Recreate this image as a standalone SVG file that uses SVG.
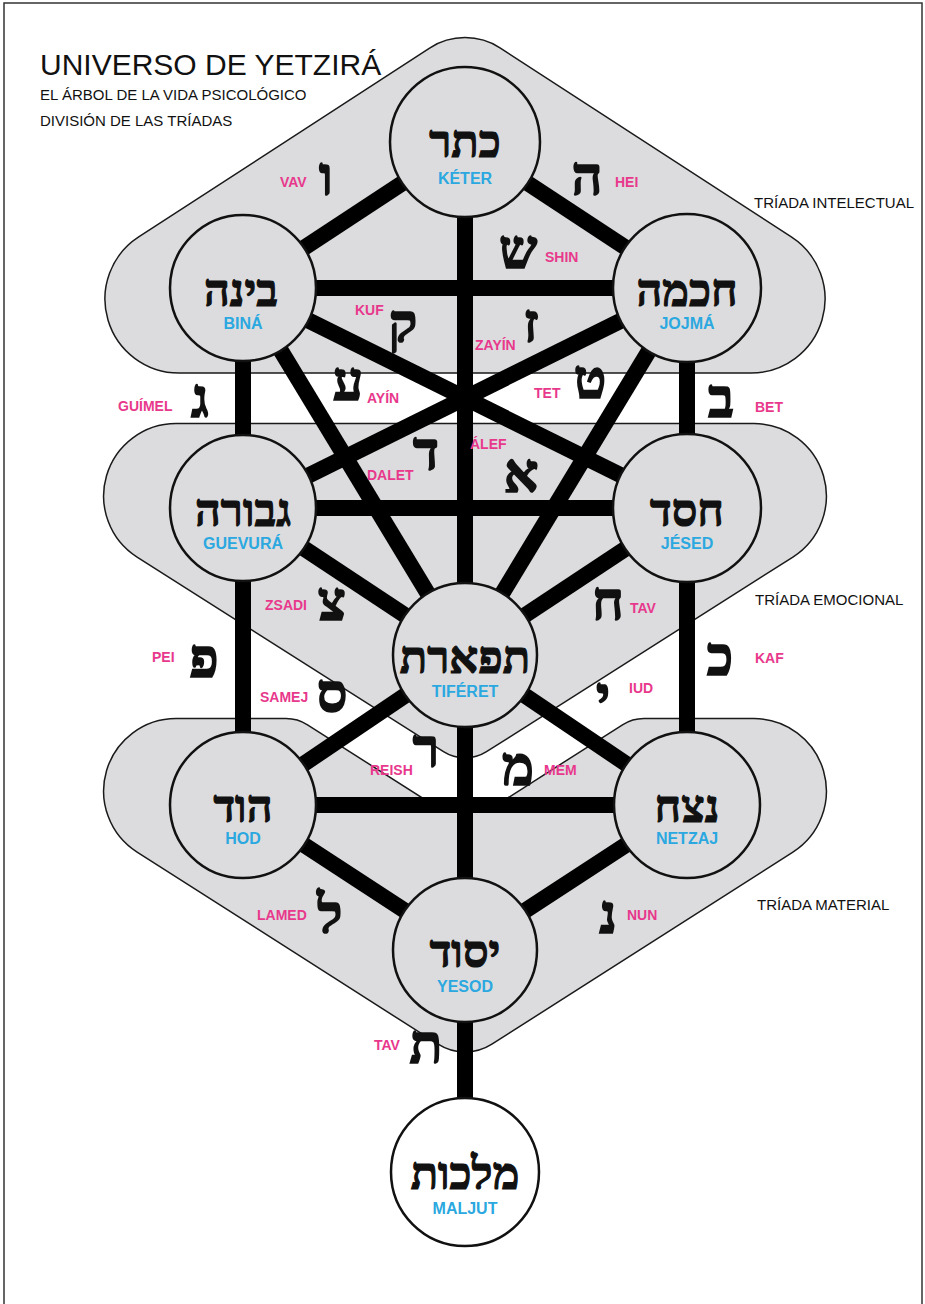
<svg xmlns="http://www.w3.org/2000/svg" width="925" height="1304" viewBox="0 0 925 1304">
<style>
.triad{fill:#dcdcde;stroke:#1a1a1a;stroke-width:1.5}
.conn line{stroke:#000;stroke-width:16;stroke-linecap:butt}
.node circle{fill:#dcdcde;stroke:#111;stroke-width:2.5}
.heb{font-family:"Liberation Serif","DejaVu Sans",serif;font-weight:bold;fill:#111;stroke:#111;text-anchor:middle}
.hn{font-size:45px;stroke-width:1.2}
.hp{font-size:54px;stroke-width:1.6}
.blue{font-family:"Liberation Sans",Arial,sans-serif;font-weight:bold;font-size:16px;fill:#2ba8e0;text-anchor:middle}
.pink{font-family:"Liberation Sans",Arial,sans-serif;font-weight:bold;font-size:14px;fill:#e8388c}
.tri{font-family:"Liberation Sans",Arial,sans-serif;font-size:15px;fill:#111}
.sub{font-family:"Liberation Sans",Arial,sans-serif;font-size:15px;fill:#111}
</style>
<rect x="0" y="0" width="925" height="1304" fill="#fff"/>
<rect x="4" y="3" width="918" height="1320" fill="none" stroke="#333" stroke-width="1.5"/>

<g id="triads">
<path id="triada-intelectual" class="triad" d="M429.6 48.1 A65 65 0 0 1 500.4 48.1 L791.3 236.9 A74 74 0 0 1 751 373 L179 373 A74 74 0 0 1 138.7 236.9 Z"/>
<path id="triada-emocional" class="triad" d="M176 423.5 L754 423.5 A72.5 72.5 0 0 1 792.9 557.1 L486.5 751.7 A40 40 0 0 1 443.5 751.7 L137.1 557.1 A72.5 72.5 0 0 1 176 423.5 Z"/>
<path id="triada-material" class="triad" d="M176 718.5 L286 718.5 A40 40 0 0 1 307.5 724.8 L430.2 803 L499.8 803 L622.5 724.8 A40 40 0 0 1 644 718.5 L754 718.5 A72.5 72.5 0 0 1 792.9 852.1 L491.9 1044.2 A50 50 0 0 1 438.1 1044.2 L137.1 852.1 A72.5 72.5 0 0 1 176 718.5 Z"/>
</g>

<g id="connectors" class="conn">
<line x1="465" y1="142" x2="243" y2="288"/>
<line x1="465" y1="142" x2="687" y2="288"/>
<line x1="465" y1="142" x2="465" y2="655"/>
<line x1="243" y1="288" x2="687" y2="288"/>
<line x1="243" y1="288" x2="243" y2="508"/>
<line x1="687" y1="288" x2="687" y2="508"/>
<line x1="243" y1="288" x2="465" y2="655"/>
<line x1="687" y1="288" x2="465" y2="655"/>
<line x1="243" y1="288" x2="687" y2="508"/>
<line x1="687" y1="288" x2="243" y2="508"/>
<line x1="243" y1="508" x2="687" y2="508"/>
<line x1="243" y1="508" x2="465" y2="655"/>
<line x1="687" y1="508" x2="465" y2="655"/>
<line x1="243" y1="508" x2="243" y2="805"/>
<line x1="687" y1="508" x2="687" y2="805"/>
<line x1="465" y1="655" x2="243" y2="805"/>
<line x1="465" y1="655" x2="687" y2="805"/>
<line x1="243" y1="805" x2="687" y2="805"/>
<line x1="243" y1="805" x2="465" y2="950"/>
<line x1="687" y1="805" x2="465" y2="950"/>
<line x1="465" y1="655" x2="465" y2="950"/>
<line x1="465" y1="950" x2="465" y2="1172"/>
</g>

<g id="keter" class="node"><circle cx="465" cy="142" r="75"/><text class="heb hn" x="465" y="157">כתר</text><text class="blue" x="465" y="184">KÉTER</text></g>
<g id="bina" class="node"><circle cx="243" cy="288" r="73"/><text class="heb hn" x="241" y="306">בינה</text><text class="blue" x="243" y="329">BINÁ</text></g>
<g id="jojma" class="node"><circle cx="687" cy="288" r="74"/><text class="heb hn" x="687" y="306">חכמה</text><text class="blue" x="687" y="329">JOJMÁ</text></g>
<g id="guevura" class="node"><circle cx="243" cy="508" r="73"/><text class="heb hn" x="243" y="526">גבורה</text><text class="blue" x="243" y="549">GUEVURÁ</text></g>
<g id="jesed" class="node"><circle cx="687" cy="508" r="74"/><text class="heb hn" x="687" y="526">חסד</text><text class="blue" x="687" y="549">JÉSED</text></g>
<g id="tiferet" class="node"><circle cx="465" cy="655" r="72"/><text class="heb hn" x="465" y="673">תפארת</text><text class="blue" x="465" y="697">TIFÉRET</text></g>
<g id="hod" class="node"><circle cx="243" cy="805" r="73"/><text class="heb hn" x="243" y="822">הוד</text><text class="blue" x="243" y="844">HOD</text></g>
<g id="netzaj" class="node"><circle cx="687" cy="805" r="73"/><text class="heb hn" x="687" y="822">נצח</text><text class="blue" x="687" y="844">NETZAJ</text></g>
<g id="yesod" class="node"><circle cx="465" cy="950" r="72"/><text class="heb hn" x="465" y="967">יסוד</text><text class="blue" x="465" y="992">YESOD</text></g>
<g id="maljut" class="node"><circle cx="465" cy="1172" r="74" style="fill:#fff"/><text class="heb hn" x="465" y="1189">מלכות</text><text class="blue" x="465" y="1214">MALJUT</text></g>

<g id="path-letters">
<text class="heb hp" x="326" y="195">ו</text><text class="pink" x="280" y="187">VAV</text>
<text class="heb hp" x="587" y="195">ה</text><text class="pink" x="615" y="187">HEI</text>
<text class="heb hp" x="518" y="268">ש</text><text class="pink" x="545" y="262">SHIN</text>
<text class="heb hp" x="403" y="342">ק</text><text class="pink" x="355" y="315">KUF</text>
<text class="heb hp" x="531" y="342">ז</text><text class="pink" x="475" y="350">ZAYÍN</text>
<text class="heb hp" x="348" y="400">ע</text><text class="pink" x="367" y="403">AYÍN</text>
<text class="heb hp" x="590" y="398">ט</text><text class="pink" x="534" y="398">TET</text>
<text class="heb hp" x="200" y="417">ג</text><text class="pink" x="118" y="411">GUÍMEL</text>
<text class="heb hp" x="721" y="417">ב</text><text class="pink" x="755" y="412">BET</text>
<text class="heb hp" x="426" y="470">ד</text><text class="pink" x="367" y="480">DALET</text>
<text class="heb hp" x="521" y="492">א</text><text class="pink" x="470" y="449">ÁLEF</text>
<text class="heb hp" x="332" y="620">צ</text><text class="pink" x="265" y="610">ZSADI</text>
<text class="heb hp" x="204" y="677">פ</text><text class="pink" x="152" y="662">PEI</text>
<text class="heb hp" x="332" y="712">ס</text><text class="pink" x="260" y="702">SAMEJ</text>
<text class="heb hp" x="608" y="620">ח</text><text class="pink" x="630" y="613">TAV</text>
<text class="heb hp" x="720" y="675">כ</text><text class="pink" x="755" y="663">KAF</text>
<text class="heb hp" x="603" y="715">י</text><text class="pink" x="629" y="693">IUD</text>
<text class="heb hp" x="426" y="767">ר</text><text class="pink" x="370" y="775">REISH</text>
<text class="heb hp" x="518" y="785">מ</text><text class="pink" x="544" y="775">MEM</text>
<text class="heb hp" x="330" y="933">ל</text><text class="pink" x="257" y="920">LAMED</text>
<text class="heb hp" x="608" y="933">נ</text><text class="pink" x="627" y="920">NUN</text>
<text class="heb hp" x="426" y="1063">ת</text><text class="pink" x="374" y="1050">TAV</text>
</g>

<g id="titles">
<text x="40" y="75" style="font-family:'Liberation Sans',Arial,sans-serif;font-size:30px;fill:#111">UNIVERSO DE YETZIRÁ</text>
<text class="sub" x="40" y="100">EL ÁRBOL DE LA VIDA PSICOLÓGICO</text>
<text class="sub" x="40" y="126">DIVISIÓN DE LAS TRÍADAS</text>
<text class="tri" x="754" y="208">TRÍADA INTELECTUAL</text>
<text class="tri" x="755" y="605">TRÍADA EMOCIONAL</text>
<text class="tri" x="757" y="910">TRÍADA MATERIAL</text>
</g>
</svg>
